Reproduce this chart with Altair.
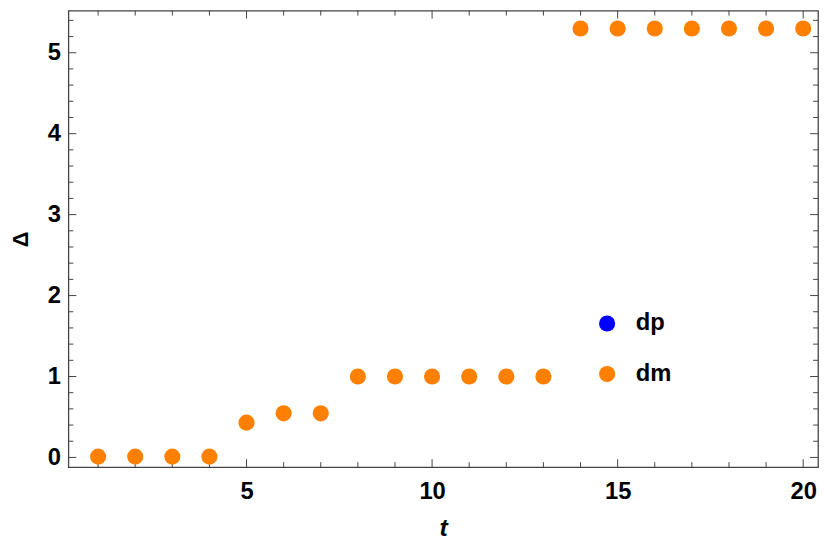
import altair as alt
import pandas as pd

# ---- data ----
t_values = [1, 2, 3, 4, 5, 6, 7, 8, 9, 10, 11, 12, 13, 14, 15, 16, 17, 18, 19, 20]
dm_values = [0.01, 0.01, 0.01, 0.01, 0.43, 0.545, 0.545, 1.0, 1.0, 1.0, 1.0, 1.0, 1.0,
             5.3, 5.3, 5.3, 5.3, 5.3, 5.3, 5.3]
series_names = ["dp", "dm"]
series_colors = ["#0000ff", "#ff8000"]

x_major_ticks = [5, 10, 15, 20]
x_minor_ticks = [1, 2, 3, 4, 6, 7, 8, 9, 11, 12, 13, 14, 16, 17, 18, 19]
y_major_ticks = [0, 1, 2, 3, 4, 5]
y_minor_ticks = [0.2, 0.4, 0.6, 0.8, 1.2, 1.4, 1.6, 1.8, 2.2, 2.4, 2.6, 2.8,
                 3.2, 3.4, 3.6, 3.8, 4.2, 4.4, 4.6, 4.8, 5.2, 5.4]

W, H = 757, 461
FONT = "Liberation Sans"
FRAME = "#444444"

df = pd.DataFrame({"t": t_values, "val": dm_values, "series": ["dm"] * len(t_values)})

xs = alt.Scale(domain=[0.2, 20.4], nice=False, zero=False)
ys = alt.Scale(domain=[-0.12, 5.52], nice=False, zero=False)

x_axis = alt.Axis(values=x_major_ticks, ticks=False, domain=False, grid=False,
                  labelFontSize=24, labelFontWeight="bold", labelFont=FONT,
                  labelColor="black", labelPadding=13,
                  title="t", titleFont=FONT, titleFontSize=25,
                  titleFontWeight="bold", titleFontStyle="italic",
                  titleColor="black", titlePadding=12)
y_axis = alt.Axis(values=y_major_ticks, ticks=False, domain=False, grid=False,
                  labelFontSize=24, labelFontWeight="bold", labelFont=FONT,
                  labelColor="black", labelPadding=8,
                  title="Δ", titleFont=FONT, titleFontSize=22,
                  titleFontWeight="bold", titleColor="black",
                  titlePadding=15)

points = alt.Chart(df).mark_circle(size=265, opacity=1).encode(
    x=alt.X("t:Q", scale=xs, axis=x_axis),
    y=alt.Y("val:Q", scale=ys, axis=y_axis),
    color=alt.Color("series:N",
                    scale=alt.Scale(domain=series_names, range=series_colors),
                    sort=series_names,
                    legend=alt.Legend(title=None, orient="none", legendX=532, legendY=304,
                                      symbolType="circle", symbolSize=265,
                                      labelFontSize=24, labelFontWeight="bold",
                                      labelFont=FONT, labelColor="black",
                                      rowPadding=27, labelOffset=17, padding=0,
                                      symbolStrokeWidth=0, symbolOpacity=1)),
)


def tick_layer(vals, channel, length, side):
    if channel == "y":
        d = pd.DataFrame({"val": vals})
        enc = dict(y=alt.Y("val:Q", scale=ys, axis=y_axis))
        if side == "left":
            enc.update(x=alt.value(0), x2=alt.value(length))
        else:
            enc.update(x=alt.value(W), x2=alt.value(W - length))
    else:
        d = pd.DataFrame({"t": vals})
        enc = dict(x=alt.X("t:Q", scale=xs, axis=x_axis))
        if side == "bottom":
            enc.update(y=alt.value(H), y2=alt.value(H - length))
        else:
            enc.update(y=alt.value(0), y2=alt.value(length))
    return alt.Chart(d).mark_rule(color=FRAME, strokeWidth=1).encode(**enc)


ticks = [
    tick_layer(y_major_ticks, "y", 8, "left"),
    tick_layer(y_minor_ticks, "y", 5, "left"),
    tick_layer(y_major_ticks, "y", 8, "right"),
    tick_layer(y_minor_ticks, "y", 5, "right"),
    tick_layer(x_major_ticks, "x", 8, "bottom"),
    tick_layer(x_minor_ticks, "x", 5, "bottom"),
    tick_layer(x_major_ticks, "x", 8, "top"),
    tick_layer(x_minor_ticks, "x", 5, "top"),
]

chart = alt.layer(*ticks, points).properties(
    width=W, height=H,
    background="white",
    autosize=alt.AutoSizeParams(type="none"),
    padding={"left": 61, "top": 0, "right": 4, "bottom": 80},
).configure_view(stroke=FRAME, strokeWidth=1.3)

chart.save("out.html", embed_options={"renderer": "svg", "actions": False})
